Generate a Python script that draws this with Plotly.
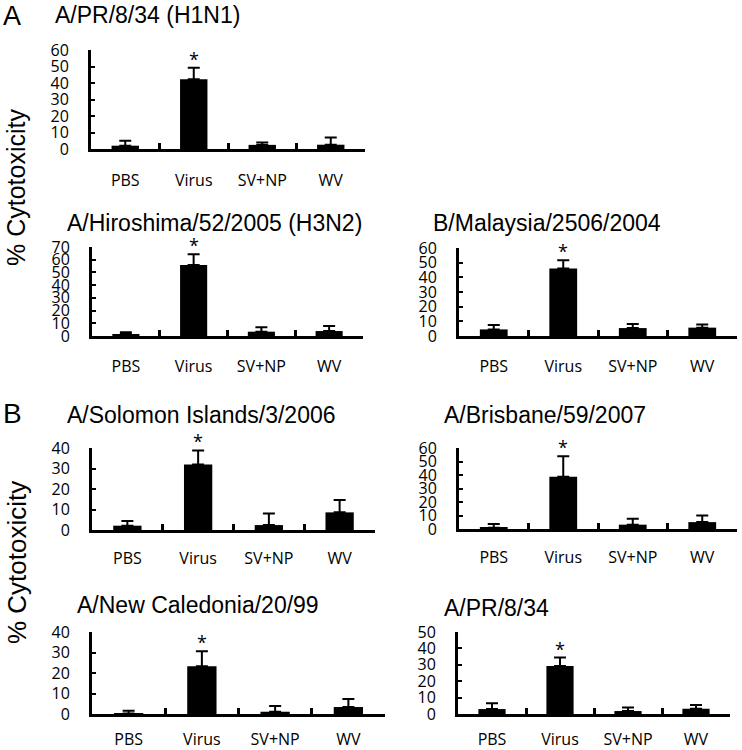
import plotly.graph_objects as go

W, H = 742, 750

categories = ["PBS", "Virus", "SV+NP", "WV"]

panel_titles = [
    "A/PR/8/34 (H1N1)",
    "A/Hiroshima/52/2005 (H3N2)",
    "B/Malaysia/2506/2004",
    "A/Solomon Islands/3/2006",
    "A/Brisbane/59/2007",
    "A/New Caledonia/20/99",
    "A/PR/8/34",
]

pr8_h1n1_mean = [2.0, 42.2, 2.5, 2.6]
pr8_h1n1_err = [3.0, 7.1, 1.5, 4.4]
hiroshima_mean = [1.3, 55.9, 3.4, 3.9]
hiroshima_err = [1.6, 8.3, 3.4, 4.0]
malaysia_mean = [4.5, 46.0, 5.4, 5.7]
malaysia_err = [3.0, 5.7, 2.8, 2.2]
solomon_mean = [2.1, 31.9, 2.4, 8.6]
solomon_err = [2.3, 6.9, 5.7, 6.0]
brisbane_mean = [1.0, 38.7, 3.2, 5.1]
brisbane_err = [2.7, 15.2, 4.4, 4.9]
caledonia_mean = [0.2, 23.3, 1.1, 3.4]
caledonia_err = [1.4, 7.3, 2.8, 3.9]
pr8_mean = [3.0, 29.2, 1.8, 3.2]
pr8_err = [3.5, 5.2, 2.2, 2.3]

y_max = [60, 70, 60, 40, 60, 40, 50]
y_step = 10

means = [pr8_h1n1_mean, hiroshima_mean, malaysia_mean, solomon_mean,
         brisbane_mean, caledonia_mean, pr8_mean]
errs = [pr8_h1n1_err, hiroshima_err, malaysia_err, solomon_err,
        brisbane_err, caledonia_err, pr8_err]

# panel geometry in pixels: (x_left, x_right, y_top, y_zero)
geom = [
    (91, 365, 50, 149),
    (92, 363, 247, 336),
    (459, 737, 248, 336),
    (92, 375, 448, 530),
    (459, 737, 448, 529),
    (92, 385, 632, 714),
    (458, 730, 632, 714),
]
label_standoff = [15, 14, 14, 12, 12, 9, 9]
title_pos = [(53, 15), (65, 223), (431, 223), (65, 415), (442, 415), (75, 605), (442, 608)]

SANS = "Liberation Sans, Arial, sans-serif"
TICKF = "Open Sans, sans-serif"

fig = go.Figure()
layout = dict(
    width=W, height=H,
    margin=dict(l=0, r=0, t=0, b=0, pad=0, autoexpand=False),
    paper_bgcolor="white", plot_bgcolor="white",
    showlegend=False,
    bargap=0.6,
)
annotations = []

for i in range(7):
    n = i + 1
    xa = "x" if n == 1 else f"x{n}"
    ya = "y" if n == 1 else f"y{n}"
    fig.add_trace(go.Bar(
        x=categories, y=means[i], xaxis=xa, yaxis=ya,
        marker=dict(color="black", line=dict(width=0)),
        error_y=dict(type="data", array=errs[i], arrayminus=[0] * 4,
                     symmetric=False, color="black", thickness=2, width=6),
    ))
    x0, x1, yt, yb = geom[i]
    layout[f"xaxis{n if n > 1 else ''}"] = dict(
        domain=[x0 / W, x1 / W], anchor=ya, type="category",
        range=[-0.5, 3.5], showgrid=False, zeroline=False,
        showline=True, linecolor="black", linewidth=3,
        ticks="inside", tickson="boundaries", ticklen=6, tickwidth=3,
        tickcolor="black", automargin=False,
        tickfont=dict(family=TICKF, size=16, color="black"),
        ticklabelstandoff=label_standoff[i], fixedrange=True,
    )
    layout[f"yaxis{n if n > 1 else ''}"] = dict(
        domain=[1 - yb / H, 1 - yt / H], anchor=xa,
        range=[0, y_max[i]], tickmode="linear", tick0=0, dtick=y_step,
        showgrid=False, zeroline=False, automargin=False,
        showline=True, linecolor="black", linewidth=3,
        ticks="inside", ticklen=4, tickwidth=2, tickcolor="black",
        tickfont=dict(family=TICKF, size=16, color="black"),
        ticklabelstandoff=16, fixedrange=True,
    )
    # significance asterisk above Virus bar
    annotations.append(dict(
        x="Virus", y=means[i][1] + errs[i][1], xref=xa, yref=ya,
        text="*", showarrow=False, yanchor="bottom", yshift=-5,
        font=dict(family=TICKF, size=18, color="black"),
    ))
    tx, ty = title_pos[i]
    annotations.append(dict(
        x=tx / W, y=1 - ty / H, xref="paper", yref="paper",
        text=panel_titles[i], showarrow=False, xanchor="left", yanchor="middle",
        font=dict(family=SANS, size=23, color="black"),
    ))

# panel letters
annotations.append(dict(x=1 / W, y=1 - 16 / H, xref="paper", yref="paper", text="A",
                        showarrow=False, xanchor="left", yanchor="middle",
                        font=dict(family=SANS, size=27, color="black")))
annotations.append(dict(x=1 / W, y=1 - 413 / H, xref="paper", yref="paper", text="B",
                        showarrow=False, xanchor="left", yanchor="middle",
                        font=dict(family=SANS, size=28, color="black")))
# y-axis titles
annotations.append(dict(x=0, y=1 - 188 / H, xref="paper", yref="paper",
                        text="% Cytotoxicity", textangle=-90, showarrow=False,
                        xanchor="left", yanchor="middle",
                        font=dict(family=SANS, size=25, color="black")))
annotations.append(dict(x=0, y=1 - 563 / H, xref="paper", yref="paper",
                        text="% Cytotoxicity", textangle=-90, showarrow=False,
                        xanchor="left", yanchor="middle",
                        font=dict(family=SANS, size=26, color="black")))

layout["annotations"] = annotations
fig.update_layout(**layout)
fig.write_html(
    "out.html",
    config={"displayModeBar": False},
    post_script="document.body.style.margin='0px';document.body.style.overflow='hidden';",
)
